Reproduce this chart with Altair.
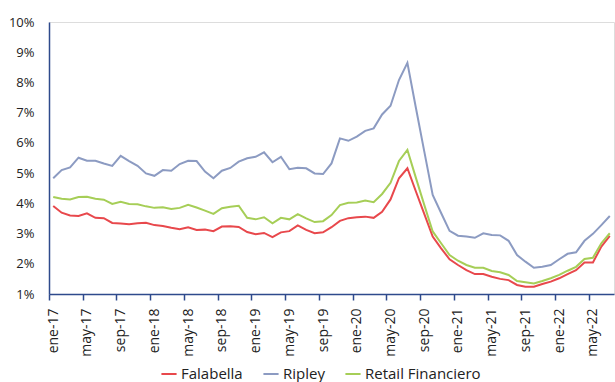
import altair as alt
import pandas as pd

meses = ["ene", "feb", "mar", "abr", "may", "jun", "jul", "ago", "sep", "oct", "nov", "dic"]
periodos = [f"{meses[k % 12]}-{17 + k // 12}" for k in range(67)]

series = ["Falabella", "Ripley", "Retail Financiero"]
colores = ["#E8484C", "#8C9BC2", "#A6CE57"]

falabella = [3.91, 3.69, 3.60, 3.58, 3.67, 3.52, 3.51, 3.35, 3.33, 3.31, 3.34, 3.36,
             3.28, 3.25, 3.19, 3.14, 3.21, 3.12, 3.13, 3.08, 3.23, 3.24, 3.22, 3.05,
             2.98, 3.02, 2.88, 3.04, 3.08, 3.27, 3.12, 3.01, 3.04, 3.21, 3.42, 3.51,
             3.54, 3.56, 3.52, 3.72, 4.13, 4.83, 5.16, 4.40, 3.65, 2.90, 2.51, 2.15,
             1.96, 1.79, 1.66, 1.66, 1.57, 1.50, 1.46, 1.30, 1.24, 1.24, 1.33, 1.41,
             1.52, 1.66, 1.79, 2.04, 2.04, 2.57, 2.92]
ripley = [4.83, 5.10, 5.19, 5.51, 5.41, 5.41, 5.32, 5.24, 5.57, 5.40, 5.24, 4.99,
          4.91, 5.10, 5.08, 5.30, 5.41, 5.40, 5.05, 4.83, 5.08, 5.17, 5.38, 5.49,
          5.54, 5.69, 5.36, 5.54, 5.13, 5.18, 5.16, 4.99, 4.97, 5.32, 6.15, 6.07,
          6.21, 6.40, 6.48, 6.94, 7.23, 8.08, 8.65, 7.17, 5.72, 4.28, 3.68, 3.09,
          2.93, 2.90, 2.86, 3.01, 2.95, 2.94, 2.76, 2.29, 2.07, 1.87, 1.90, 1.96,
          2.15, 2.33, 2.38, 2.76, 2.99, 3.28, 3.58]
retail = [4.21, 4.15, 4.13, 4.21, 4.22, 4.15, 4.12, 3.98, 4.05, 3.98, 3.97, 3.90,
          3.85, 3.87, 3.81, 3.85, 3.95, 3.86, 3.76, 3.65, 3.84, 3.89, 3.92, 3.52,
          3.47, 3.54, 3.34, 3.52, 3.47, 3.64, 3.50, 3.38, 3.41, 3.61, 3.94, 4.02,
          4.03, 4.09, 4.04, 4.31, 4.68, 5.40, 5.77, 4.85, 3.95, 3.07, 2.68, 2.29,
          2.10, 1.96, 1.87, 1.87, 1.76, 1.72, 1.63, 1.43, 1.39, 1.35, 1.43, 1.52,
          1.63, 1.77, 1.90, 2.16, 2.20, 2.68, 3.01]

y_ticks = [0.01, 0.02, 0.03, 0.04, 0.05, 0.06, 0.07, 0.08, 0.09, 0.10]

rows = []
for name, vals in zip(series, [falabella, ripley, retail]):
    for i, v in enumerate(vals):
        rows.append({"idx": i, "periodo": periodos[i], "serie": name, "valor": v / 100})
df = pd.DataFrame(rows)

W, H = 565, 272
n = len(periodos)
step = W / n
label_vals = list(range(0, n, 4))
labels_js = "[" + ",".join(f"'{periodos[i]}'" for i in label_vals) + "]"

navy = "#2E4A8C"
font = "Open Sans"

chart = alt.Chart(df).mark_line(strokeWidth=2).encode(
    x=alt.X(
        "idx:Q",
        scale=alt.Scale(domain=[-0.5, n - 0.5], nice=False, zero=False),
        axis=alt.Axis(
            title=None,
            values=label_vals,
            labelExpr=f"{labels_js}[round(datum.value/4)]",
            tickOffset=-step / 2,
            labelOffset=step / 2,
            labelAngle=270,
            labelFlush=False,
            labelOverlap=False,
            labelBound=False,
            grid=False,
            ticks=True,
            tickSize=6,
            tickColor=navy,
            tickWidth=1.5,
            domainColor=navy,
            domainWidth=1.5,
            labelPadding=8,
            labelFontSize=14,
            labelColor="#222222",
            labelFont=font,
        ),
    ),
    y=alt.Y(
        "valor:Q",
        scale=alt.Scale(domain=[0.01, 0.10], nice=False, zero=False),
        axis=alt.Axis(
            title=None,
            values=y_ticks,
            format=".0%",
            grid=False,
            ticks=False,
            tickSize=0,
            domainColor=navy,
            domainWidth=1.5,
            labelPadding=15,
            labelFontSize=13,
            labelColor="#222222",
            labelFont=font,
        ),
    ),
    color=alt.Color(
        "serie:N",
        scale=alt.Scale(domain=series, range=colores),
        sort=series,
        legend=alt.Legend(
            title=None,
            orient="none",
            legendX=111,
            legendY=343,
            direction="horizontal",
            symbolType="stroke",
            symbolStrokeWidth=2,
            symbolSize=230,
            labelFontSize=15,
            labelFont=font,
            labelColor="#222222",
            columnPadding=16,
            labelOffset=3,
        ),
    ),
).properties(
    width=W,
    height=H,
    autosize=alt.AutoSizeParams(type="none"),
    padding={"left": 49, "top": 22, "right": 1, "bottom": 88},
).configure_view(stroke=None).configure(background="white", font=font)

chart.save("out.html", embed_options={"renderer": "svg", "actions": False})
